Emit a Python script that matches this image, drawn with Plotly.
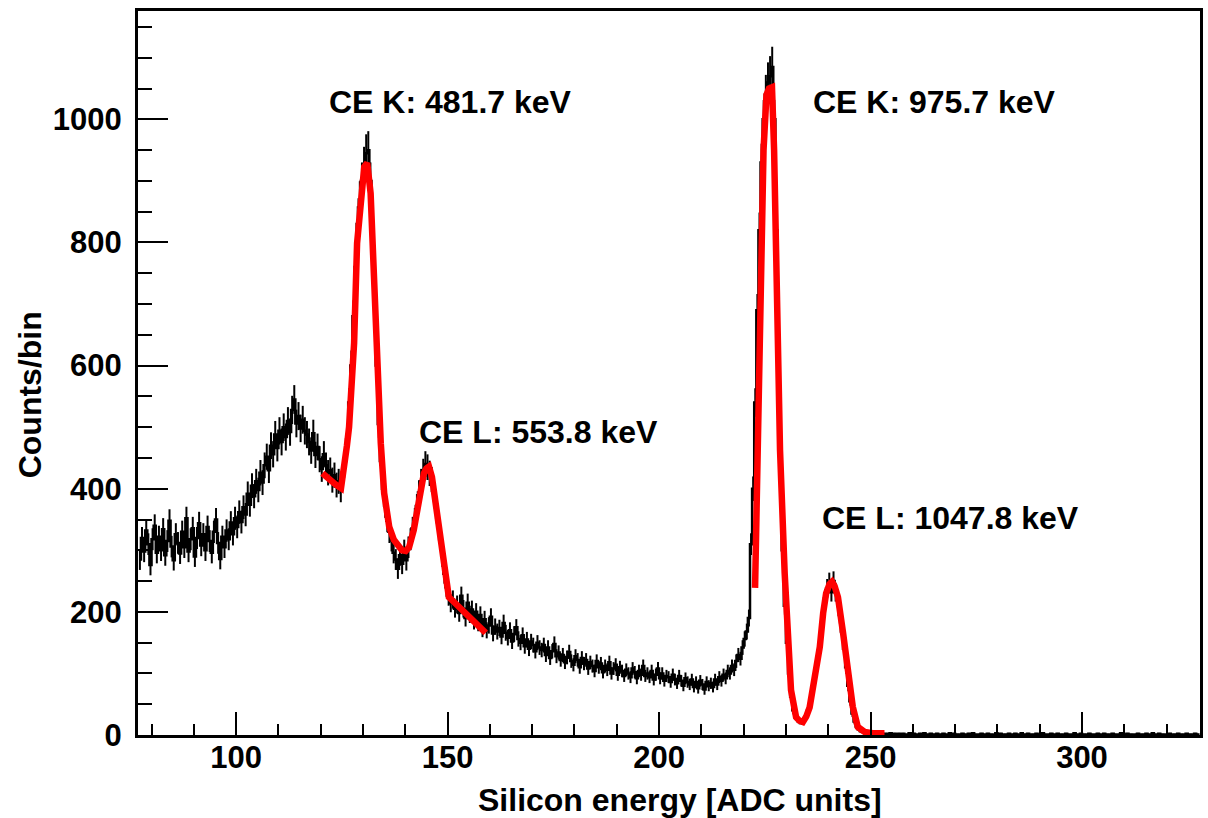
import numpy as np
import plotly.graph_objects as go

# ---------------- data ----------------
BIN_START = 77.0
BIN_WIDTH = 0.5

counts = [
    # 77-82
    285, 320, 298, 332, 310, 276, 318, 340, 296, 322,
    # 82-87
    300, 334, 292, 315, 348, 306, 284, 326, 312, 295,
    # 87-92
    330, 305, 352, 298, 318, 336, 290, 320, 344, 308,
    # 92-97
    326, 300, 338, 315, 296, 330, 350, 312, 286, 322,
    # 97-102
    305, 332, 318, 345, 326, 352, 338, 362, 346, 370,
    # 102-107
    358, 392, 374, 405, 388, 412, 398, 426, 410, 438,
    # 107-112
    452, 430, 470, 456, 488, 466, 494, 476, 500, 484,
    # 112-117
    510, 492, 528, 545, 506, 518, 498, 512, 494, 488,
    # 117-122
    476, 462, 490, 455, 468, 448, 432, 456, 438, 426,
    # 122-127
    430, 414, 422, 406, 412, 398, 420, 445, 480, 540,
    # 127-132
    600, 680, 760, 830, 870, 900, 925, 945, 950, 900,
    # 132-137
    820, 705, 600, 505, 445, 400, 372, 348, 330, 316,
    # 137-142
    296, 285, 270, 292, 278, 300, 284, 305, 318, 336,
    # 142-147
    350, 372, 394, 412, 428, 440, 435, 425, 415, 398,
    # 147-152
    370, 345, 318, 290, 262, 240, 225, 214, 220, 205,
    # 152-157
    212, 198, 226, 205, 190, 215, 196, 204, 185, 200,
    # 157-162
    182, 195, 172, 188, 170, 178, 192, 165, 176, 168,
    # 162-167
    174, 160, 182, 166, 158, 170, 152, 164, 175, 156,
    # 167-172
    150, 162, 144, 155, 140, 152, 146, 136, 150, 142,
    # 172-177
    138, 146, 130, 142, 125, 136, 148, 128, 134, 122,
    # 177-182
    130, 118, 126, 135, 120, 114, 128, 122, 110, 125,
    # 182-187
    116, 122, 108, 118, 112, 104, 120, 110, 116, 102,
    # 187-192
    112, 106, 118, 100, 108, 114, 98, 110, 104, 96,
    # 192-197
    106, 100, 94, 108, 102, 92, 104, 98, 112, 96,
    # 197-202
    100, 94, 104, 90, 98, 108, 92, 100, 88, 96,
    # 202-207
    94, 86, 98, 90, 84, 96, 88, 80, 92, 86,
    # 207-212
    82, 90, 78, 86, 76, 88, 82, 74, 86, 80,
    # 212-217
    84, 78, 90, 82, 94, 88, 98, 92, 104, 100,
    # 217-222
    112, 106, 120, 130, 124, 142, 156, 168, 190, 310,
    # 222-227
    400, 540, 690, 820, 930, 1000, 1040, 1060, 1070, 1085,
    # 227-232
    1000, 820, 600, 420, 300, 210, 150, 100, 62, 40,
    # 232-237
    30, 25, 22, 21, 24, 30, 40, 52, 70, 90,
    # 237-242
    112, 136, 162, 195, 222, 238, 248, 232, 250, 232,
    # 242-247
    222, 195, 168, 140, 110, 80, 55, 35, 22, 14,
    # 247-252
    9, 6, 5, 3, 4, 2, 3, 2, 1, 2,
    # 252-257
    3, 1, 2, 2, 0, 3, 1, 2, 1, 2,
    # 257-262
    1, 2, 0, 1, 3, 1, 2, 1, 0, 2,
    # 262-267
    1, 3, 1, 0, 2, 1, 1, 2, 0, 1,
    # 267-272
    2, 1, 0, 3, 1, 2, 1, 1, 0, 2,
    # 272-277
    1, 0, 2, 1, 3, 1, 0, 1, 2, 1,
    # 277-282
    0, 2, 1, 1, 0, 3, 1, 2, 0, 1,
    # 282-287
    1, 2, 0, 1, 2, 1, 0, 3, 1, 1,
    # 287-292
    2, 0, 1, 1, 2, 0, 1, 3, 1, 0,
    # 292-297
    1, 2, 1, 0, 2, 1, 1, 0, 2, 1,
    # 297-302
    0, 1, 3, 1, 0, 2, 1, 1, 0, 2,
    # 302-307
    1, 0, 1, 2, 1, 0, 2, 1, 1, 0,
    # 307-312
    2, 1, 0, 1, 3, 1, 0, 2, 1, 1,
    # 312-317
    0, 1, 2, 0, 1, 1, 2, 0, 1, 3,
    # 317-322
    1, 0, 2, 1, 1, 0, 1, 2, 0, 1,
    # 322-327
    1, 2, 0, 1, 0, 2, 1, 1, 0, 2,
    # 327-328
    1, 0,
]

fit1_x = [120.4, 121.5, 122.5, 123.5, 124.8, 125.5, 126.2, 126.7, 127.3, 127.9,
          128.6, 129.5, 130.3, 131.0, 131.8, 132.6, 133.4, 134.2, 135.0, 136.2,
          137.3, 138.3, 139.2, 140.1, 140.9, 142.0, 142.8, 143.6, 144.4, 145.0,
          145.6, 146.3, 147.2, 147.9, 148.7, 149.8, 150.3, 151.5, 152.7, 154.2,
          155.7, 157.3, 159.0]
fit1_y = [425, 418, 412, 407, 401, 430, 470, 500, 560, 637,
          799, 880, 923, 929, 880, 744, 582, 474, 393, 338,
          317, 306, 300, 299, 305, 333, 365, 403, 425, 433,
          436, 419, 376, 333, 289, 235, 224, 216, 208, 197,
          187, 176, 166]

fit2_x = [222.7, 223.2, 223.5, 224.2, 224.7, 225.4, 226.0, 226.7, 227.2, 227.9,
          228.6, 229.7, 230.5, 231.2, 232.4, 233.2, 234.0, 234.8, 235.6, 236.8,
          238.0, 238.8, 239.5, 240.3, 240.9, 241.5, 242.3, 243.5, 244.6, 245.8,
          247.0, 248.6, 250.5, 253.3]
fit2_y = [239, 420, 546, 788, 950, 1040, 1050, 1052, 950, 707,
          463, 263, 154, 73, 29, 23, 21, 30, 45, 89,
          143, 198, 230, 245, 249, 242, 224, 166, 101, 46,
          13, 5, 3, 3]

labels = ["CE K: 481.7 keV", "CE L: 553.8 keV", "CE K: 975.7 keV", "CE L: 1047.8 keV"]
label_x = [121.5, 142.8, 235.9, 238.0]
label_y = [1028, 492, 1028, 352]

x_ticks = [100, 150, 200, 250, 300]
y_ticks = [0, 200, 400, 600, 800, 1000]

# ---------------- figure ----------------
counts_arr = np.array(counts, dtype=float)
centers = BIN_START + BIN_WIDTH * (np.arange(len(counts_arr)) + 0.5)
errors = np.sqrt(counts_arr)

FONT = "Liberation Sans, Arial, Helvetica, sans-serif"

fig = go.Figure()
fig.add_trace(go.Scatter(
    x=centers, y=counts_arr, mode="lines",
    line=dict(color="black", width=2.5, shape="hvh"),
    error_y=dict(type="data", array=errors, visible=True,
                 thickness=2, width=0, color="black"),
    hoverinfo="skip",
))
fig.add_trace(go.Scatter(x=fit1_x, y=fit1_y, mode="lines",
                         line=dict(color="#ff0000", width=6.5)))
fig.add_trace(go.Scatter(x=fit2_x, y=fit2_y, mode="lines",
                         line=dict(color="#ff0000", width=6.5)))

for t, lx, ly in zip(labels, label_x, label_y):
    fig.add_annotation(x=lx, y=ly, text=t, showarrow=False,
                       xanchor="left", yanchor="middle",
                       font=dict(family=FONT, size=32, color="black", weight="bold"))

# axis titles
fig.add_annotation(xref="paper", yref="paper", x=0.5108, y=-0.0898,
                   text="Silicon energy [ADC units]", showarrow=False,
                   xanchor="center", yanchor="middle",
                   font=dict(family=FONT, size=32, color="black", weight="bold"))
fig.add_annotation(xref="paper", yref="paper", x=-0.1014, y=0.4696,
                   text="Counts/bin", showarrow=False, textangle=-90,
                   xanchor="center", yanchor="middle",
                   font=dict(family=FONT, size=32, color="black", weight="bold"))

tickfont = dict(family=FONT, size=31, color="black", weight="bold")

fig.update_xaxes(
    range=[76.8, 327.9], tickvals=x_ticks, ticks="inside", ticklen=23,
    tickwidth=2, tickcolor="black", showline=True, linewidth=3,
    linecolor="black", mirror=True, showgrid=False, zeroline=False,
    tickfont=tickfont, ticklabelstandoff=-7,
    minor=dict(dtick=10, tick0=0, ticks="inside", ticklen=11, tickwidth=2,
               tickcolor="black", showgrid=False),
)
fig.update_yaxes(
    range=[0, 1176], tickvals=y_ticks, ticks="inside", ticklen=30,
    tickwidth=2, tickcolor="black", showline=True, linewidth=3,
    linecolor="black", mirror=True, showgrid=False, zeroline=False,
    tickfont=tickfont, ticklabelstandoff=7,
    minor=dict(dtick=50, tick0=0, ticks="inside", ticklen=14, tickwidth=2,
               tickcolor="black", showgrid=False),
)

fig.update_layout(
    width=1208, height=818,
    margin=dict(l=138, r=5, t=11, b=83),
    plot_bgcolor="white", paper_bgcolor="white",
    showlegend=False,
)

fig.write_html("out.html")
